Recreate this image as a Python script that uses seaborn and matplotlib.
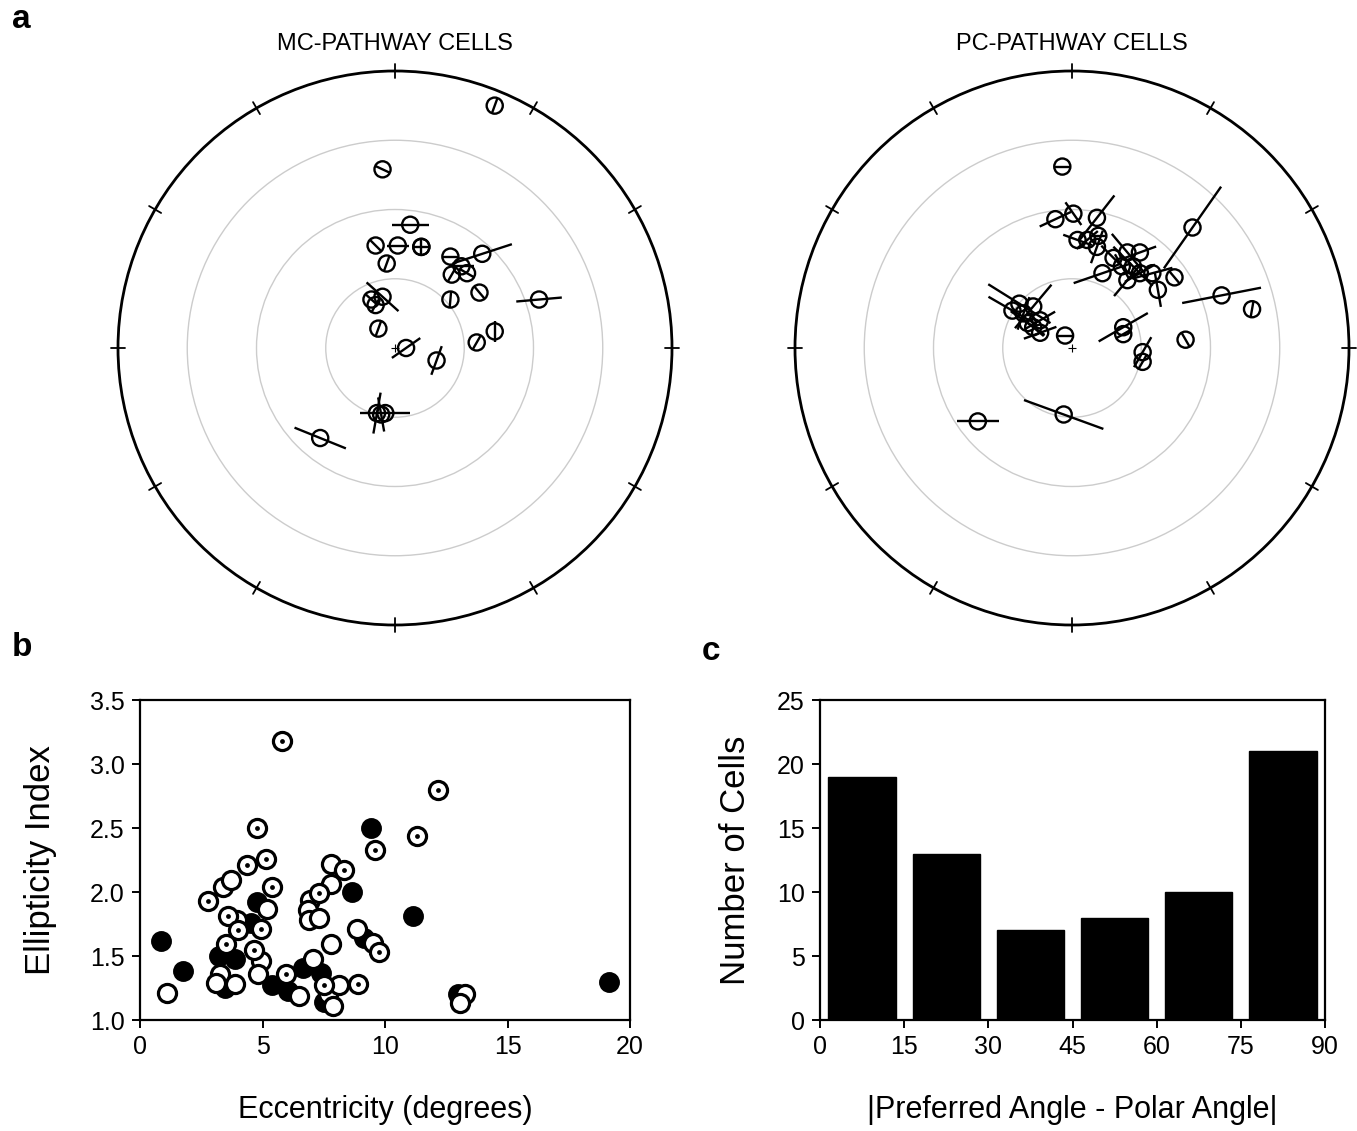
import numpy as np
import matplotlib
matplotlib.use("Agg")
import matplotlib.pyplot as plt
import seaborn as sns

sns.set_style("ticks")
plt.rcParams["font.family"] = ["Liberation Sans", "DejaVu Sans"]
plt.rcParams["text.color"] = "black"
plt.rcParams["axes.labelcolor"] = "black"

# ---- panel a: receptive field positions (deg), orientation (deg), line length (deg)
mc_x = [7.2, -0.9, 1.1, -1.4, 0.2, 1.9, 1.9, -0.6, 4.0, 4.1, 4.8, 5.2, 6.3, 6.1, 4.0,
        10.4, 7.2, 5.9, 3.0, 0.8, -1.2, -1.7, -0.9, -1.4, -1.3, -0.7, -1.0, -5.4]
mc_y = [17.5, 12.9, 8.9, 7.4, 7.4, 7.3, 7.3, 6.1, 6.6, 5.3, 5.9, 5.4, 6.8, 4.0, 3.5,
        3.5, 1.2, 0.4, -0.9, 0.0, 1.4, 3.5, 3.7, 3.1, -4.7, -4.7, -4.8, -6.5]
mc_ang = [70, -25, 0, -45, 0, 0, 90, 70, 0, 60, 0, -30, 18, -50, 85,
          5, 90, 60, 70, 35, 70, -42, -42, 60, 80, 0, 100, -22]
mc_len = [0, 0, 2.7, 0, 1.6, 0, 0, 0, 0, 0, 1.8, 0, 4.5, 0, 0,
          3.3, 1.5, 0, 2.2, 2.5, 1.3, 0, 3.1, 0, 3.0, 3.6, 2.5, 4.0]

pc_x = [-0.7, -1.2, 0.1, 1.8, 8.7, 0.4, 1.1, 1.8, 1.9, 2.2, 3.0, 4.0, 4.9, 4.4, 4.9,
        5.8, 4.0, 3.6, 6.2, 7.4, 10.8, 13.0, -4.3, -3.8, -2.8, -2.3, -2.8, -2.3, -3.5,
        -3.2, -0.5, 3.7, 3.7, 5.1, 5.1, 8.2, -0.6, -6.8]
pc_y = [13.1, 9.3, 9.7, 9.4, 8.7, 7.8, 7.8, 7.3, 8.1, 5.4, 6.5, 6.9, 6.9, 5.9, 5.4,
        5.4, 4.9, 5.9, 4.2, 5.1, 3.8, 2.8, 2.7, 3.2, 3.0, 2.0, 1.5, 1.1, 2.5,
        1.8, 0.9, 1.5, 1.0, -0.3, -1.0, 0.6, -4.8, -5.3]
pc_ang = [0, 25, -55, 52, 55, -20, 40, 70, 0, 19, -45, -50, 20, -45, 30,
          15, 50, -60, -80, -50, 11, 80, -30, -32, 50, 30, -40, 20, 70,
          -35, 0, 30, 30, 60, 60, -60, -20, 0]
pc_len = [0, 2.5, 2.0, 4.1, 7.2, 2.2, 2.0, 2.5, 0, 4.4, 2.5, 3.5, 2.5, 4.0, 2.5,
          3.0, 3.0, 2.0, 2.5, 0, 5.8, 0, 4.0, 5.3, 4.1, 2.5, 2.0, 2.5, 2.5,
          3.0, 0, 4.1, 0, 2.5, 0, 0, 6.1, 3.0]

ring_radii = [5, 10, 15]
field_radius = 20

# ---- panel b: ellipticity vs eccentricity
filled_x = [0.85, 1.74, 3.21, 3.87, 3.48, 4.76, 4.55, 4.14, 5.37, 6.06, 6.65, 7.40,
            7.50, 8.66, 9.42, 9.14, 11.13, 19.15, 12.99]
filled_y = [1.62, 1.38, 1.50, 1.48, 1.25, 1.92, 1.76, 1.74, 1.27, 1.23, 1.41, 1.37,
            1.14, 2.00, 2.50, 1.64, 1.81, 1.30, 1.20]
open_x = [1.12, 3.39, 3.73, 5.17, 3.94, 7.81, 7.81, 6.95, 6.85, 6.88, 7.32, 8.87, 9.49,
          7.81, 4.93, 4.80, 3.25, 3.11, 3.87, 7.06, 6.47, 7.68, 8.14, 7.88, 13.26, 13.05]
open_y = [1.21, 2.04, 2.09, 1.87, 1.78, 2.22, 2.06, 1.94, 1.86, 1.78, 1.80, 1.71, 1.60,
          1.59, 1.46, 1.36, 1.36, 1.29, 1.28, 1.48, 1.19, 1.20, 1.27, 1.11, 1.20, 1.13]
dot_x = [5.78, 12.16, 4.76, 11.32, 9.58, 4.35, 5.13, 8.32, 5.40, 2.77, 7.32, 3.59,
         3.98, 4.93, 3.52, 4.66, 9.76, 7.50, 8.91, 5.95]
dot_y = [3.18, 2.80, 2.50, 2.44, 2.33, 2.21, 2.26, 2.17, 2.04, 1.93, 1.99, 1.81,
         1.70, 1.71, 1.59, 1.55, 1.53, 1.27, 1.28, 1.36]

# ---- panel c: histogram of angle differences
bin_centers = [7.5, 22.5, 37.5, 52.5, 67.5, 82.5]
cell_counts = [19, 13, 7, 8, 10, 21]

W, H = 1357, 1131
fig = plt.figure(figsize=(W / 100, H / 100), dpi=100)


def box(x0, y0, w, h):
    return [x0 / W, 1 - (y0 + h) / H, w / W, h / H]


def draw_field(ax, xs, ys, angs, lens):
    for r in ring_radii:
        ax.add_patch(plt.Circle((0, 0), r, fill=False, ec="#cccccc", lw=1.0))
    ax.add_patch(plt.Circle((0, 0), field_radius, fill=False, ec="black", lw=2.0,
                            clip_on=False))
    for t in np.deg2rad(np.arange(0, 360, 30)):
        ax.plot([19.5 * np.cos(t), 20.5 * np.cos(t)], [19.5 * np.sin(t), 20.5 * np.sin(t)],
                color="black", lw=1.3, clip_on=False)
    # orientation bars
    for x, y, a, L in zip(xs, ys, angs, lens):
        half = max(L, 1.15) / 2
        dx, dy = half * np.cos(np.deg2rad(a)), half * np.sin(np.deg2rad(a))
        ax.plot([x - dx, x + dx], [y - dy, y + dy], color="black", lw=1.7,
                solid_capstyle="butt")
    sns.scatterplot(x=xs, y=ys, ax=ax, marker="o", s=135, facecolors="none",
                    edgecolor="black", linewidth=1.7)
    ax.plot(0, 0, marker="+", color="black", ms=6, mew=0.8)
    ax.set_xlim(-20, 20)
    ax.set_ylim(-20, 20)
    ax.set_aspect("equal")
    ax.axis("off")


ax_mc = fig.add_axes(box(118, 71, 554, 554))
draw_field(ax_mc, mc_x, mc_y, mc_ang, mc_len)
ax_pc = fig.add_axes(box(795, 71, 554, 554))
draw_field(ax_pc, pc_x, pc_y, pc_ang, pc_len)

fig.text(395 / W, 1 - 44 / H, "MC-PATHWAY CELLS", ha="center", va="center", fontsize=17)
fig.text(1072 / W, 1 - 44 / H, "PC-PATHWAY CELLS", ha="center", va="center", fontsize=17)

# panel b
ax_b = fig.add_axes(box(140, 700, 490, 320))
sns.scatterplot(x=filled_x, y=filled_y, ax=ax_b, marker="o", s=170, color="black",
                edgecolor="black", linewidth=2)
sns.scatterplot(x=open_x, y=open_y, ax=ax_b, marker="o", s=170, color="white",
                edgecolor="black", linewidth=2.3)
sns.scatterplot(x=dot_x, y=dot_y, ax=ax_b, marker="o", s=170, color="white",
                edgecolor="black", linewidth=2.3)
sns.scatterplot(x=dot_x, y=dot_y, ax=ax_b, marker="o", s=12, color="black",
                edgecolor="black", linewidth=0)
ax_b.set_xlim(0, 20)
ax_b.set_ylim(1.0, 3.5)
ax_b.set_xticks([0, 5, 10, 15, 20])
ax_b.set_yticks([1.0, 1.5, 2.0, 2.5, 3.0, 3.5])
ax_b.set_yticklabels(["1.0", "1.5", "2.0", "2.5", "3.0", "3.5"])
ax_b.set_xlabel("Eccentricity (degrees)", fontsize=22, labelpad=26)
ax_b.set_ylabel("Ellipticity Index", fontsize=25, labelpad=24)

# panel c
ax_c = fig.add_axes(box(820, 700, 505, 320))
sns.barplot(x=bin_centers, y=cell_counts, ax=ax_c, native_scale=True, color="black",
            edgecolor="black", width=0.8, saturation=1)
ax_c.set_xlim(0, 90)
ax_c.set_ylim(0, 25)
ax_c.set_xticks(range(0, 91, 15))
ax_c.set_yticks(range(0, 26, 5))
ax_c.set_xlabel("|Preferred Angle - Polar Angle|", fontsize=22, labelpad=26)
ax_c.set_ylabel("Number of Cells", fontsize=25, labelpad=18)

for ax in (ax_b, ax_c):
    for sp in ax.spines.values():
        sp.set_visible(True)
        sp.set_linewidth(1.6)
        sp.set_color("black")
    ax.tick_params(direction="out", length=6, width=1.4, labelsize=18, pad=5,
                   colors="black", top=False, right=False)

fig.text(12 / W, 1 - 20 / H, "a", fontsize=24, fontweight="bold", va="center")
fig.text(12 / W, 1 - 648 / H, "b", fontsize=24, fontweight="bold", va="center")
fig.text(702 / W, 1 - 652 / H, "c", fontsize=24, fontweight="bold", va="center")

fig.savefig("out.png", dpi=100)
